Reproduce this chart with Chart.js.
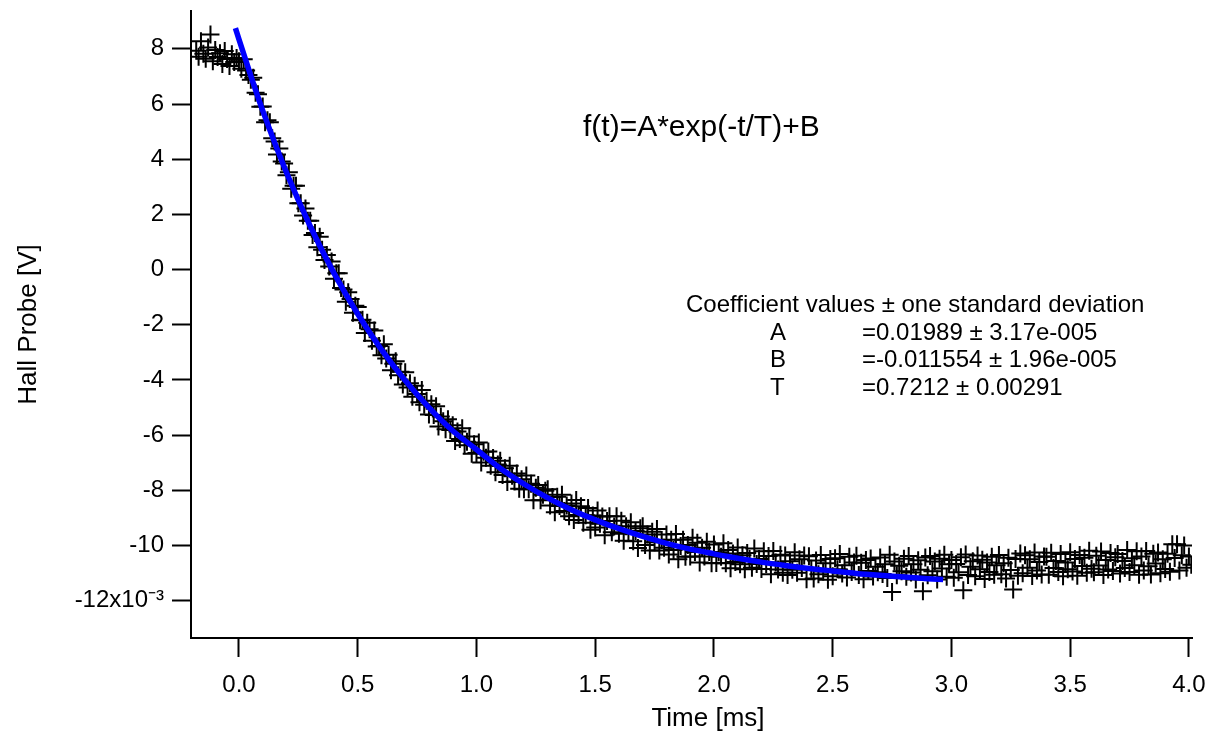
<!DOCTYPE html>
<html>
<head>
<meta charset="utf-8">
<script src="https://cdn.jsdelivr.net/npm/chart.js@4.4.0/dist/chart.umd.min.js"></script>
<style>
  html, body { margin: 0; padding: 0; background: #fff; }
  canvas { display: block; }
</style>
</head>
<body>
<canvas id="hallChart" width="1211" height="732"></canvas>
<script>
// Hall probe trace: sampled every 10 us starting at -0.18 ms, values in 1e-3 V
var timeStart = -0.18;
var timeStep = 0.01;
var hallValues = [
  7.93, 7.71, 8.27, 7.82, 7.64, 8.05, 8.52, 7.55, 7.96, 7.70, 7.84, 7.45, 7.92, 7.63, 7.38, 7.80, 7.52, 7.67,
  7.55, 7.28, 7.62, 7.21, 7.05, 6.88, 6.95, 6.41, 6.35, 5.90,
  5.91, 5.34, 5.41, 5.34, 4.76, 4.64, 4.17, 4.39, 3.92, 3.84,
  3.42, 3.53, 2.93, 3.04, 3.04, 2.40, 2.40, 1.96, 2.21, 1.77,
  1.77, 1.25, 1.33, 0.81, 1.19, 0.72, 0.35, 0.53, 0.11, 0.29,
  -0.33, -0.13, -0.13, -0.67, -0.72, -1.17, -0.82, -1.07, -1.56, -1.31,
  -1.36, -1.84, -1.82, -2.30, -1.93, -2.16, -2.58, -2.21, -2.79, -2.77,
  -3.10, -2.71, -3.22, -3.09, -3.65, -3.41, -3.32, -3.83, -3.70, -4.16,
  -3.72, -4.27, -4.12, -4.61, -4.21, -4.51, -4.81, -4.36, -4.90, -4.75,
  -5.25, -4.88, -5.27, -4.95, -5.69, -5.32, -5.50, -5.79, -5.42, -5.81,
  -5.64, -6.21, -5.87, -6.14, -5.75, -6.37, -6.24, -6.05, -6.67, -6.33,
  -6.65, -6.27, -6.99, -6.60, -6.82, -6.59, -7.11, -6.83, -7.34, -7.06,
  -6.93, -7.44, -7.20, -7.70, -7.11, -7.47, -7.68, -7.39, -7.94, -7.60,
  -7.96, -7.46, -7.96, -7.76, -8.36, -7.91, -7.81, -8.36, -8.16, -8.01,
  -7.96, -8.55, -8.24, -8.79, -8.23, -8.57, -8.16, -8.75, -8.55, -8.94,
  -8.48, -9.07, -8.35, -8.89, -8.58, -9.17, -8.90, -8.64, -9.43, -8.91,
  -9.35, -8.73, -9.21, -8.95, -9.63, -9.11, -8.94, -9.52, -9.31, -8.94,
  -9.57, -9.10, -9.83, -9.30, -9.53, -9.16, -9.84, -9.47, -10.09, -9.37,
  -9.30, -9.98, -9.60, -10.18, -9.50, -9.88, -9.40, -10.18, -9.80, -10.08,
  -9.60, -10.32, -9.79, -10.16, -9.58, -10.50, -10.02, -9.79, -10.41, -9.98,
  -10.40, -9.72, -10.23, -9.90, -10.61, -10.08, -10.40, -9.86, -10.23, -10.64,
  -9.96, -10.63, -10.24, -10.41, -9.92, -10.64, -10.16, -10.82, -10.29, -10.60,
  -10.07, -10.68, -10.35, -10.86, -10.27, -10.49, -10.80, -10.11, -10.67, -10.49,
  -10.85, -10.21, -10.67, -10.38, -11.04, -10.20, -10.61, -10.87, -10.33, -10.99,
  -10.36, -11.07, -10.57, -10.88, -10.24, -10.99, -10.50, -10.81, -10.36, -11.22,
  -10.39, -10.84, -11.19, -10.54, -11.04, -10.34, -10.94, -10.64, -11.24, -10.49,
  -11.11, -10.46, -10.86, -10.31, -11.01, -10.71, -11.16, -10.41, -10.96, -10.61,
  -10.37, -11.07, -10.62, -11.22, -10.52, -10.92, -10.47, -11.12, -10.77, -10.97,
  -10.43, -11.03, -10.68, -11.18, -10.33, -11.68, -10.58, -11.08, -10.73, -10.93,
  -10.48, -11.13, -10.38, -10.98, -10.68, -11.23, -10.53, -10.88, -11.66, -10.43,
  -11.08, -10.38, -10.93, -10.58, -11.23, -10.48, -10.83, -10.33, -11.13, -10.68,
  -10.52, -11.17, -10.67, -10.97, -10.42, -11.62, -10.32, -11.07, -10.77, -10.57,
  -11.11, -10.36, -10.86, -10.51, -11.21, -10.61, -10.96, -10.41, -11.06, -10.71,
  -10.34, -11.04, -10.64, -11.19, -10.44, -10.89, -11.59, -10.49, -11.09, -10.29,
  -11.00, -10.35, -10.80, -10.50, -11.10, -10.25, -10.90, -10.60, -11.05, -10.40,
  -10.41, -11.06, -10.26, -10.81, -10.56, -10.96, -10.31, -11.11, -10.61, -10.86,
  -10.24, -10.94, -10.49, -11.09, -10.34, -10.74, -10.44, -10.99, -10.19, -10.84,
  -10.97, -10.37, -10.72, -10.22, -11.07, -10.52, -10.87, -10.27, -10.92, -10.42,
  -10.31, -11.01, -10.56, -10.81, -10.16, -10.96, -10.46, -10.71, -10.21, -11.06,
  -10.40, -10.90, -10.20, -10.75, -11.05, -10.30, -10.65, -10.25, -11.00, -10.50,
  -10.85, -10.30, -10.95, -9.95, -10.45, -9.95, -10.90, -10.35, -10.00, -10.80,
  -10.40, -10.70
];

// fitted curve as drawn on the plot
var fitTimes = [-0.015, 0, 0.05, 0.1, 0.2, 0.3, 0.4, 0.5, 0.6, 0.7, 0.8, 0.9, 1.0, 1.1, 1.2, 1.3, 1.4,
  1.5, 1.6, 1.7, 1.8, 1.9, 2.0, 2.1, 2.2, 2.3, 2.4, 2.5, 2.6, 2.7, 2.8, 2.9, 2.965];
var fitValues = [8.75, 8.34, 7.02, 5.76, 3.52, 1.57, -0.13, -1.61, -2.90, -4.02, -5.00, -5.84, -6.52,
  -7.20, -7.77, -8.27, -8.70, -9.07, -9.39, -9.67, -9.92, -10.13, -10.30, -10.46, -10.60, -10.72,
  -10.83, -10.92, -11.01, -11.08, -11.14, -11.20, -11.23];

var xTitle = 'Time [ms]';
var yTitle = 'Hall Probe [V]';
var fitFormula = 'f(t)=A*exp(-t/T)+B';
var coefHeader = 'Coefficient values \u00b1 one standard deviation';
var coefNames = ['A', 'B', 'T'];
var coefValues = ['=0.01989 \u00b1 3.17e-005', '=-0.011554 \u00b1 1.96e-005', '=0.7212 \u00b1 0.00291'];

var fontFamily = '"Liberation Sans", Arial, Helvetica, sans-serif';

var hallPoints = hallValues.map(function(v, i) {
  return { x: +(timeStart + i * timeStep).toFixed(3), y: v };
});
var fitPoints = fitTimes.map(function(t, i) {
  return { x: t, y: fitValues[i] };
});

// text boxes placed like in the original Igor graph
var fitTextPlugin = {
  id: 'fitText',
  afterDraw: function(chart) {
    var ctx = chart.ctx;
    ctx.save();
    ctx.fillStyle = '#000';
    ctx.textAlign = 'left';
    ctx.textBaseline = 'alphabetic';
    ctx.font = '30px ' + fontFamily;
    ctx.fillText(fitFormula, 583, 136);
    ctx.font = '24px ' + fontFamily;
    ctx.fillText(coefHeader, 686, 312);
    for (var i = 0; i < coefNames.length; i++) {
      ctx.fillText(coefNames[i], 770, 339.5 + i * 27.5);
      ctx.fillText(coefValues[i], 862, 339.5 + i * 27.5);
    }
    // x axis title sits a little right of the axis centre in the original
    ctx.textAlign = 'center';
    ctx.textBaseline = 'middle';
    ctx.font = '26px ' + fontFamily;
    ctx.fillText(xTitle, 708, 719);
    ctx.restore();
  }
};

var axisGrid = {
  display: true,
  drawOnChartArea: false,
  drawTicks: true,
  tickLength: 19,
  tickWidth: 2,
  tickColor: '#000'
};

new Chart(document.getElementById('hallChart'), {
  type: 'scatter',
  data: {
    datasets: [{
      label: 'fit',
      data: fitPoints,
      showLine: true,
      borderColor: '#0000ff',
      borderWidth: 5.5,
      pointRadius: 0,
      cubicInterpolationMode: 'monotone',
      fill: false
    }, {
      label: 'Hall Probe',
      data: hallPoints,
      pointStyle: 'cross',
      pointRadius: 9,
      borderColor: '#000',
      borderWidth: 2,
      backgroundColor: '#000'
    }]
  },
  options: {
    responsive: false,
    animation: false,
    events: [],
    layout: { padding: { top: 5, right: 19, left: 0, bottom: 0 } },
    plugins: {
      legend: { display: false },
      tooltip: { enabled: false }
    },
    scales: {
      x: {
        type: 'linear',
        min: -0.202,
        max: 4.013,
        afterFit: function(scale) {
          scale.height = 94;
          scale.paddingLeft = 0;
          scale.paddingRight = 0;
        },
        grid: axisGrid,
        border: { display: true, color: '#000', width: 2 },
        ticks: {
          stepSize: 0.5,
          includeBounds: false,
          color: '#000',
          padding: 14,
          font: { family: fontFamily, size: 24 },
          callback: function(v) { return v.toFixed(1); }
        }
      },
      y: {
        type: 'linear',
        min: -13.35,
        max: 9.37,
        afterFit: function(scale) {
          scale.width = 191;
          scale.paddingTop = 0;
          scale.paddingBottom = 0;
        },
        grid: axisGrid,
        border: { display: true, color: '#000', width: 2 },
        ticks: {
          stepSize: 2,
          includeBounds: false,
          color: '#000',
          padding: 8,
          font: { family: fontFamily, size: 24 },
          callback: function(v) { return v === -12 ? '-12x10\u207b\u00b3' : String(v); }
        },
        title: {
          display: true,
          text: yTitle,
          color: '#000',
          font: { family: fontFamily, size: 26, lineHeight: 1 },
          padding: { top: 16, bottom: 0 }
        }
      }
    }
  },
  plugins: [fitTextPlugin]
});
</script>
</body>
</html>
